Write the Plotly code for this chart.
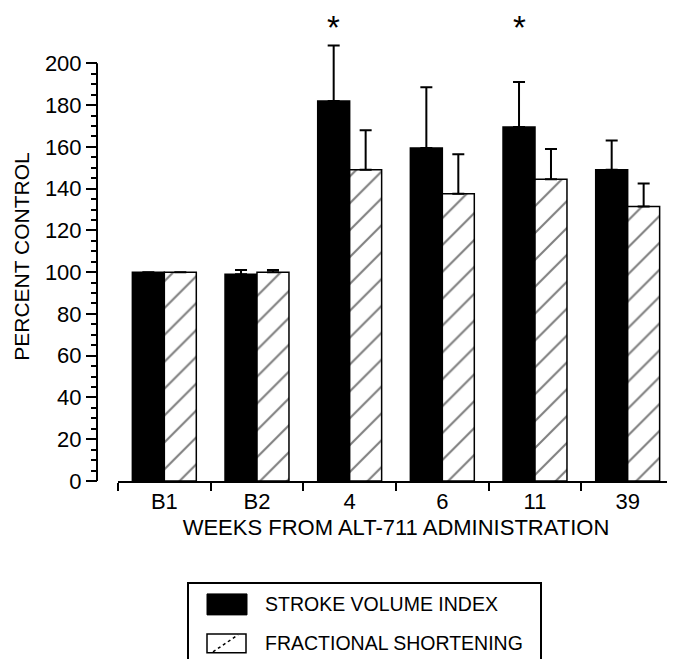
import plotly.graph_objects as go

# ---- data ----
categories = ["B1", "B2", "4", "6", "11", "39"]
svi = [100, 99, 182, 159.5, 169.5, 149]          # stroke volume index (% control)
svi_err = [0, 2, 26.5, 29, 21.5, 14]             # upper error
fs = [100, 100, 149, 137.5, 144.5, 131.5]        # fractional shortening (% control)
fs_err = [0, 1, 19, 19, 14.5, 11]
significant = ["4", "11"]
legend_labels = ["STROKE VOLUME INDEX", "FRACTIONAL SHORTENING"]
y_major = list(range(0, 201, 20))
y_minor = list(range(0, 201, 5))
Y_AXIS_TOP = 200
Y_RANGE_TOP = 215      # headroom so the tallest error bar is not clipped

# the page body has an 8px margin, so the figure is drawn 8px in from the window corner
OFF = 8
W, H = 675 - OFF, 659 - OFF
Y0_PIX, Y200_PIX = 481, 63
top_pix = Y0_PIX - Y_RANGE_TOP * (Y0_PIX - Y200_PIX) / Y_AXIS_TOP
L, R, T, B = 97 - OFF, 1, top_pix - OFF, 659 - Y0_PIX
PW, PH = W - L - R, H - T - B
FONT = "Liberation Sans, Arial, Helvetica, sans-serif"


def px(x):
    """window pixel x -> paper coordinate"""
    return (x - OFF - L) / PW


def py(y):
    """window pixel y -> paper coordinate"""
    return (T + PH - (y - OFF)) / PH


fig = go.Figure()
fig.add_trace(go.Bar(
    x=categories, y=svi, name=legend_labels[0], showlegend=False,
    marker=dict(color="black", line=dict(color="black", width=1.5)),
    error_y=dict(type="data", symmetric=False, array=svi_err,
                 arrayminus=[0] * len(svi), color="black", thickness=2, width=6),
))
fig.add_trace(go.Bar(
    x=categories, y=fs, name=legend_labels[1], showlegend=False,
    marker=dict(color="white", line=dict(color="black", width=1.5),
                pattern=dict(shape="/", fgcolor="black", bgcolor="white",
                             size=19, solidity=0.11)),
    error_y=dict(type="data", symmetric=False, array=fs_err,
                 arrayminus=[0] * len(fs), color="black", thickness=2, width=6),
))

for c in significant:
    fig.add_annotation(x=categories.index(c), y=py(27), xref="x", yref="paper",
                       xshift=-16, text="*", yanchor="middle", showarrow=False,
                       font=dict(size=33, color="black", family=FONT))

shapes = [
    # y axis line, 0..200 only
    dict(type="line", xref="paper", yref="y", x0=0, x1=0, y0=0, y1=Y_AXIS_TOP,
         line=dict(color="black", width=2)),
    # custom legend
    dict(type="rect", xref="paper", yref="paper", x0=px(188), x1=px(541),
         y0=py(583), y1=py(662), line=dict(color="black", width=2), fillcolor="white"),
    dict(type="rect", xref="paper", yref="paper", x0=px(207), x1=px(247),
         y0=py(594), y1=py(615), line=dict(color="black", width=1), fillcolor="black"),
    dict(type="rect", xref="paper", yref="paper", x0=px(207), x1=px(246),
         y0=py(634), y1=py(653), line=dict(color="black", width=1.5), fillcolor="white"),
    dict(type="line", xref="paper", yref="paper", x0=px(213), x1=px(238),
         y0=py(652), y1=py(635), line=dict(color="black", width=1.5, dash="dot")),
]
for lbl, yy in zip(legend_labels, [604, 643]):
    fig.add_annotation(x=px(263), y=py(yy), xref="paper", yref="paper", text=lbl,
                       xanchor="left", yanchor="middle", showarrow=False,
                       font=dict(size=19.5, color="black", family=FONT))

fig.update_layout(
    width=W, height=H, margin=dict(l=L, r=R, t=T, b=B),
    paper_bgcolor="white", plot_bgcolor="white",
    barmode="group", bargap=0.31, bargroupgap=0,
    font=dict(family=FONT, color="black"),
    shapes=shapes,
    xaxis=dict(type="category", domain=[px(118), 1], range=[-0.5, 5.5],
               showline=True, linecolor="black", linewidth=2,
               ticks="outside", tickson="boundaries", ticklen=8, tickwidth=2,
               tickcolor="black", tickfont=dict(size=22),
               title=dict(text="WEEKS FROM ALT-711 ADMINISTRATION",
                          font=dict(size=22), standoff=6),
               showgrid=False, zeroline=False),
    yaxis=dict(anchor="free", position=0, range=[0, Y_RANGE_TOP],
               tickmode="array", tickvals=y_major,
               showline=False,
               ticks="outside", ticklen=11, tickwidth=2, tickcolor="black",
               tickfont=dict(size=22),
               minor=dict(tickmode="array", tickvals=y_minor, ticks="outside",
                          ticklen=6, tickwidth=2, tickcolor="black"),
               title=dict(text="PERCENT CONTROL", font=dict(size=21), standoff=8),
               showgrid=False, zeroline=False),
)

fig.write_html("out.html")
